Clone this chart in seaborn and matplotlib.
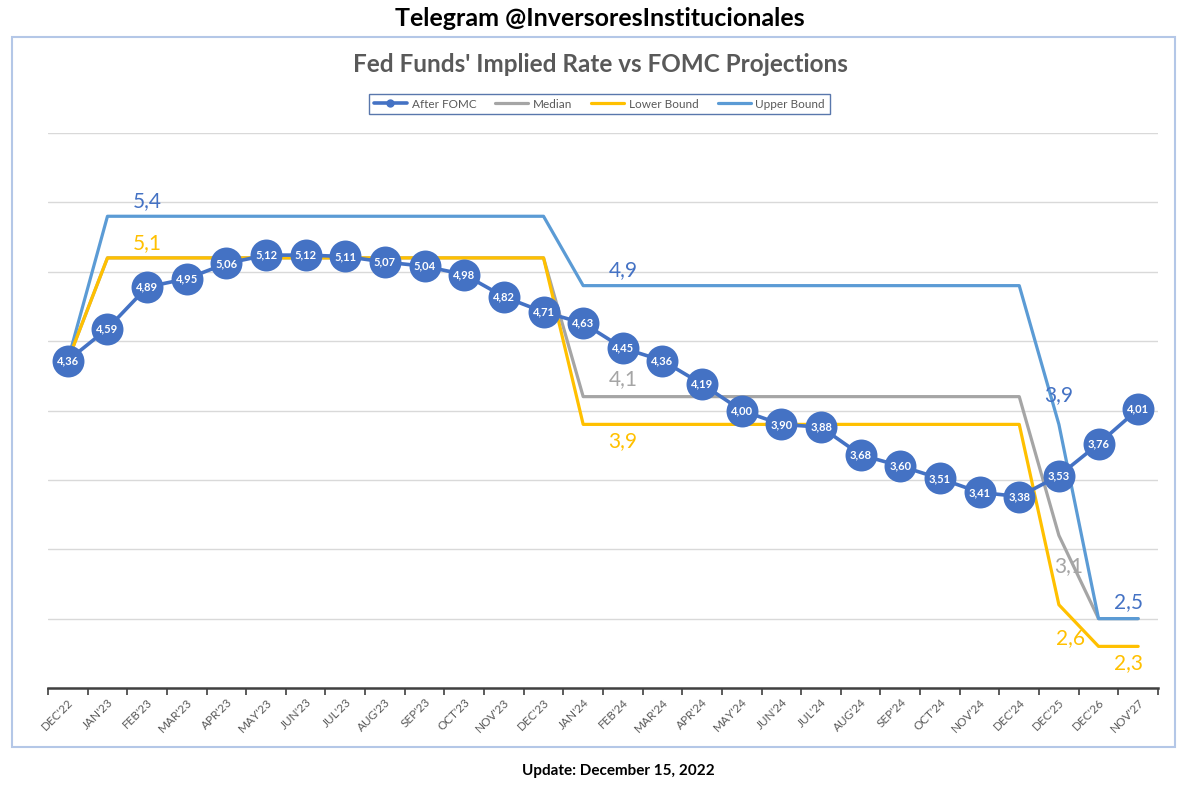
import numpy as np
import pandas as pd
import matplotlib.pyplot as plt
import seaborn as sns
from matplotlib.patches import Rectangle

# Datos
months = ["DEC'22", "JAN'23", "FEB'23", "MAR'23", "APR'23", "MAY'23", "JUN'23", "JUL'23",
          "AUG'23", "SEP'23", "OCT'23", "NOV'23", "DEC'23", "JAN'24", "FEB'24", "MAR'24",
          "APR'24", "MAY'24", "JUN'24", "JUL'24", "AUG'24", "SEP'24", "OCT'24", "NOV'24",
          "DEC'24", "DEC'25", "DEC'26", "NOV'27"]
after_fomc = [4.36, 4.59, 4.89, 4.95, 5.06, 5.12, 5.12, 5.11, 5.07, 5.04, 4.98, 4.82, 4.71,
              4.63, 4.45, 4.36, 4.19, 4.00, 3.90, 3.88, 3.68, 3.60, 3.51, 3.41, 3.38,
              3.53, 3.76, 4.01]
median = [4.36] + [5.1] * 12 + [4.1] * 12 + [3.1, 2.5, 2.5]
lower_bound = [4.36] + [5.1] * 12 + [3.9] * 12 + [2.6, 2.3, 2.3]
upper_bound = [4.36] + [5.4] * 12 + [4.9] * 12 + [3.9, 2.5, 2.5]

C_AFTER = "#4472C4"
C_MED = "#A5A5A5"
C_LOW = "#FFC000"
C_UP = "#5B9BD5"

sns.set_theme(style="white")
plt.rcParams["font.family"] = ["Lato", "DejaVu Sans"]

df = pd.DataFrame({"x": np.arange(len(months)), "after": after_fomc, "median": median,
                   "lower": lower_bound, "upper": upper_bound})

fig = plt.figure(figsize=(12, 7.88), dpi=100)
ax = fig.add_axes([0.04, 0.1269, 0.925, 0.7043])

# marco del grafico
fig.patches.append(Rectangle((12 / 1200, 1 - 747 / 788), 1163 / 1200, 710 / 788,
                             transform=fig.transFigure, fill=False,
                             edgecolor="#B4C7E7", linewidth=1.5))

sns.lineplot(data=df, x="x", y="median", color=C_MED, linewidth=2.3, ax=ax, label="Median", zorder=3)
sns.lineplot(data=df, x="x", y="upper", color=C_UP, linewidth=2.3, ax=ax, label="Upper Bound", zorder=4)
sns.lineplot(data=df, x="x", y="lower", color=C_LOW, linewidth=2.3, ax=ax, label="Lower Bound", zorder=5)
sns.lineplot(data=df, x="x", y="after", color=C_AFTER, linewidth=2.6, marker="o",
             markersize=23, markeredgewidth=0, ax=ax, label="After FOMC", zorder=6)

for i, v in enumerate(after_fomc):
    ax.text(i, v, f"{v:.2f}".replace(".", ","), color="white", fontsize=8, fontweight="bold",
            ha="center", va="center", zorder=7)

# etiquetas de proyecciones
def lab(i, v, txt, color, dx=0.0, dy=0.0):
    ax.text(i + dx, v + dy, txt, color=color, fontsize=15, ha="center", va="center", zorder=8)

lab(2, 5.4, "5,4", C_AFTER, dy=0.11)
lab(2, 5.1, "5,1", C_LOW, dy=0.11)
lab(14, 4.9, "4,9", C_AFTER, dy=0.11)
lab(14, 4.1, "4,1", C_MED, dy=0.13)
lab(14, 3.9, "3,9", C_LOW, dy=-0.12)
lab(25, 3.9, "3,9", C_AFTER, dx=0.0, dy=0.21)
lab(25, 3.1, "3,1", C_MED, dx=0.25, dy=-0.22)
lab(25, 2.6, "2,6", C_LOW, dx=0.3, dy=-0.24)
lab(27, 2.5, "2,5", C_AFTER, dx=-0.25, dy=0.12)
lab(27, 2.3, "2,3", C_LOW, dx=-0.25, dy=-0.12)

ax.set_xlim(-0.5, len(months) - 0.5)
ax.set_ylim(2.0, 6.0)
ax.set_yticks(np.arange(2.5, 6.01, 0.5))
ax.yaxis.grid(True, color="#D9D9D9", linewidth=1)
ax.tick_params(axis="y", left=False, labelleft=False)
ax.set_xticks(np.arange(len(months)))
ax.set_xticklabels(months, rotation=45, ha="right", rotation_mode="anchor",
                   fontsize=8.5, color="#595959")
ax.set_xticks(np.arange(-0.5, len(months)), minor=True)
ax.tick_params(axis="x", which="major", length=0, pad=6)
ax.tick_params(axis="x", which="minor", length=5, width=1.2, color="#404040", direction="out", bottom=True)
ax.set_xlabel("")
ax.set_ylabel("")
for s in ["top", "right", "left"]:
    ax.spines[s].set_visible(False)
ax.spines["bottom"].set_color("#404040")
ax.spines["bottom"].set_linewidth(1.8)

handles, labels = ax.get_legend_handles_labels()
# orden: After FOMC, Median, Lower Bound, Upper Bound
order = [labels.index(n) for n in ["After FOMC", "Median", "Lower Bound", "Upper Bound"]]
leg = ax.legend([handles[i] for i in order], [labels[i] for i in order], ncol=4,
                loc="center", bbox_to_anchor=(599.5 / 1200, 1 - 104 / 788),
                bbox_transform=fig.transFigure, fontsize=8.5, frameon=True, fancybox=False,
                handlelength=2.8, handletextpad=0.4, columnspacing=1.6, borderpad=0.4,
                labelcolor="#595959")
leg.get_frame().set_edgecolor("#2F5597")
leg.get_frame().set_linewidth(1.0)
for h in leg.legend_handles:
    h.set_markersize(6)

fig.text(0.5, 1 - 65 / 788, "Fed Funds' Implied Rate vs FOMC Projections", ha="center", va="center",
         fontsize=17.5, color="#595959", fontweight="bold")
fig.text(0.5, 1 - 18 / 788, "Telegram @InversoresInstitucionales", ha="center", va="center",
         fontsize=18, color="black", fontweight="bold")
fig.text(618 / 1200, 1 - 771 / 788, "Update: December 15, 2022", ha="center", va="center",
         fontsize=11, color="black", fontweight="bold")

fig.savefig("out.png", dpi=100, facecolor="white")
